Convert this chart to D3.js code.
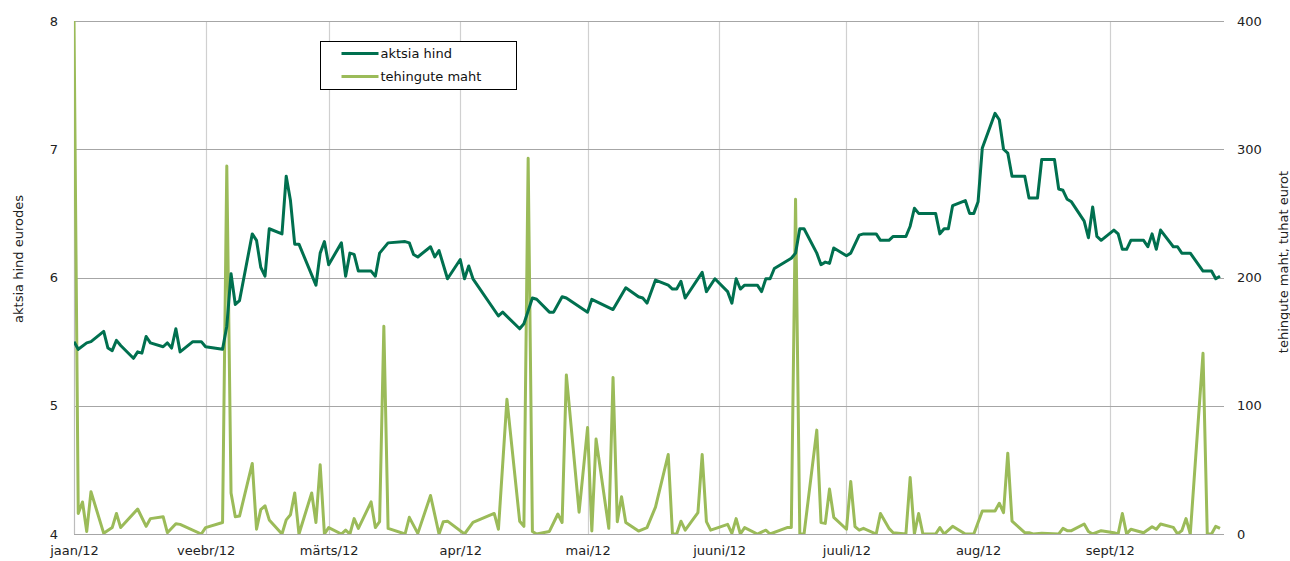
<!DOCTYPE html>
<html>
<head>
<meta charset="utf-8">
<script src="https://cdn.jsdelivr.net/npm/d3@7"></script>
<style>
  body { margin: 0; background: #fff; }
  svg { display: block; font-family: "DejaVu Sans", Verdana, sans-serif; }
</style>
</head>
<body>
<svg id="chart" width="1290" height="561"></svg>
<script>
// aktsia hind (eurodes), dates as MM-DD in 2012
const priceDates = [
  '01-02','01-03','01-05','01-06','01-09','01-10','01-11','01-12','01-13','01-16',
  '01-17','01-18','01-19','01-20','01-23','01-24','01-25','01-26','01-27','01-30',
  '02-01','02-02','02-06','02-07','02-08','02-09','02-10','02-13','02-14','02-15',
  '02-16','02-17','02-20','02-21','02-22','02-23','02-24','02-28','02-29','03-01',
  '03-02','03-05','03-06','03-07','03-08','03-09','03-12','03-13','03-14','03-16',
  '03-20','03-21','03-22','03-23','03-26','03-27','03-28','03-30','04-02','04-03',
  '04-04','04-05','04-11','04-12','04-16','04-17','04-19','04-20','04-23','04-24',
  '04-26','04-27','05-02','05-03','05-08','05-11','05-14','05-15','05-16','05-18',
  '05-21','05-22','05-23','05-24','05-25','05-29','05-30','06-01','06-04','06-05',
  '06-06','06-07','06-08','06-11','06-12','06-13','06-14','06-15','06-19','06-20',
  '06-21','06-22','06-25','06-26','06-27','06-28','06-29','07-02','07-03','07-05',
  '07-06','07-09','07-10','07-12','07-13','07-16','07-17','07-18','07-19','07-23',
  '07-24','07-25','07-26','07-27','07-30','07-31','08-01','08-02','08-03','08-06',
  '08-07','08-08','08-09','08-10','08-13','08-14','08-16','08-17','08-20','08-21',
  '08-22','08-23','08-24','08-27','08-28','08-29','08-30','08-31','09-03','09-04',
  '09-05','09-06','09-07','09-10','09-11','09-12','09-13','09-14','09-17','09-18',
  '09-19','09-21','09-24','09-26','09-27','09-28'
];
const priceValues = [
  5.50,5.44,5.49,5.50,5.58,5.45,5.43,5.51,5.47,5.37,
  5.42,5.41,5.54,5.49,5.46,5.49,5.45,5.60,5.42,5.50,
  5.50,5.46,5.44,5.62,6.03,5.79,5.82,6.34,6.29,6.08,
  6.01,6.38,6.34,6.79,6.60,6.26,6.26,5.94,6.19,6.28,
  6.10,6.27,6.01,6.19,6.18,6.05,6.05,6.01,6.19,6.27,
  6.28,6.27,6.18,6.16,6.24,6.16,6.21,5.99,6.14,5.99,
  6.09,5.99,5.70,5.73,5.60,5.64,5.84,5.83,5.73,5.73,
  5.85,5.84,5.73,5.83,5.75,5.92,5.85,5.84,5.80,5.98,
  5.94,5.91,5.91,5.97,5.84,6.04,5.89,5.99,5.89,5.80,
  5.99,5.91,5.94,5.94,5.89,5.99,5.99,6.07,6.15,6.19,
  6.38,6.38,6.19,6.10,6.12,6.11,6.23,6.17,6.19,6.33,
  6.34,6.34,6.29,6.29,6.32,6.32,6.40,6.54,6.50,6.50,
  6.34,6.38,6.38,6.56,6.60,6.50,6.50,6.59,7.01,7.28,
  7.23,7.00,6.97,6.79,6.79,6.62,6.62,6.92,6.92,6.69,
  6.68,6.61,6.59,6.44,6.31,6.55,6.32,6.29,6.37,6.34,
  6.22,6.22,6.29,6.29,6.24,6.34,6.22,6.37,6.24,6.24,
  6.19,6.19,6.05,6.05,5.99,6.01
];

// tehingute maht (tuhat eurot)
const volumeDates = [
  '01-02','01-03','01-04','01-05','01-06','01-09','01-11','01-12','01-13','01-17',
  '01-19','01-20','01-23','01-24','01-26','01-27','02-01','02-02','02-06','02-07',
  '02-08','02-09','02-10','02-13','02-14','02-15','02-16','02-17','02-20','02-21',
  '02-22','02-23','02-24','02-27','02-28','02-29','03-01','03-02','03-05','03-06',
  '03-07','03-08','03-09','03-12','03-13','03-14','03-15','03-16','03-20','03-21',
  '03-23','03-26','03-28','03-29','03-30','04-03','04-05','04-10','04-11','04-13',
  '04-16','04-17','04-18','04-19','04-20','04-23','04-25','04-26','04-27','04-30',
  '05-02','05-03','05-04','05-07','05-08','05-09','05-10','05-11','05-14','05-16',
  '05-18','05-21','05-22','05-23','05-24','05-25','05-28','05-29','05-30','05-31',
  '06-04','06-05','06-06','06-07','06-08','06-11','06-13','06-14','06-18','06-19',
  '06-20','06-21','06-22','06-25','06-26','06-27','06-28','06-29','07-02','07-03',
  '07-04','07-05','07-06','07-09','07-10','07-12','07-13','07-16','07-17','07-18',
  '07-19','07-20','07-23','07-24','07-25','07-27','07-30','08-01','08-03','08-06',
  '08-07','08-08','08-09','08-10','08-13','08-14','08-15','08-17','08-21','08-22',
  '08-23','08-24','08-27','08-28','08-29','08-31','09-03','09-04','09-05','09-06',
  '09-07','09-10','09-12','09-13','09-14','09-17','09-18','09-19','09-20','09-21',
  '09-24','09-25','09-26','09-27','09-28'
];
const volumeValues = [
  400,16,25,2,33,0.5,5,16,5,19.5,
  6,12,13.5,1,8,7.5,0,5,9,287,
  32,13.5,14,55,3.7,19,22,11,0,11,
  15,32,0,32,9,54,0,5,0,3,
  0,12,4.4,25,5,9.6,162,4.4,0,13,
  0.5,30,0,9.6,10,0,9,16,3.7,105,
  10,6,293,2,0,2,15.6,9,124,17,
  83,2.3,74,4.4,122,9.6,29,9,2.3,5,
  21,62,0,0,10,3,16.6,62,9.6,3,
  7.5,0.5,12,0,5,0,3,0,5,5,
  261,0,0,81,9,8.3,35,13,3.7,41,
  5.7,3,4.4,0,16,4.4,1,0,44,0,
  16,0,0,5,0,6,0,0,18,18,
  24,16.6,63,10,1,1,0,0.5,0,4.4,
  2.6,2.6,7.8,2,0,2.6,1,0,16,0,
  3.7,1,5.7,3.7,7.8,5.2,0,2.6,12,0,
  141,0,0,6,4.4
];

const monthTicks = ['01-02','02-02','03-02','04-02','05-02','06-02','07-02','08-02','09-02'];
const monthLabels = ['jaan/12','veebr/12','märts/12','apr/12','mai/12','juuni/12','juuli/12','aug/12','sept/12'];
const priceTicks = [4, 5, 6, 7, 8];
const volumeTicks = [0, 100, 200, 300, 400];

const parse = d3.timeParse('%Y-%m-%d');
const toDate = s => parse('2012-' + s);

const darkGreen = '#00704f';
const lightGreen = '#9bbb59';

const svg = d3.select('#chart');
const plotLeft = 74, plotRight = 1222, plotTop = 21, plotBottom = 534;

const x = d3.scaleTime()
  .domain([toDate('01-02'), toDate('09-28')])
  .range([plotLeft, 1220]);
const yPrice = d3.scaleLinear().domain([4, 8]).range([plotBottom, plotTop]);
const yVol = d3.scaleLinear().domain([0, 400]).range([plotBottom, plotTop]);

// clip for lines
svg.append('clipPath').attr('id', 'plot-clip')
  .append('rect').attr('x', plotLeft).attr('y', plotTop - 1)
  .attr('width', plotRight - plotLeft).attr('height', plotBottom - plotTop + 2);

// vertical grid (months)
const grid = svg.append('g');
grid.selectAll('line.v').data(monthTicks.slice(1)).join('line')
  .attr('class', 'v')
  .attr('x1', d => Math.round(x(toDate(d))) + 0.5)
  .attr('x2', d => Math.round(x(toDate(d))) + 0.5)
  .attr('y1', plotTop).attr('y2', plotBottom)
  .attr('stroke', '#d0d0d0').attr('stroke-width', 1.2);

// horizontal grid
grid.selectAll('line.h').data(priceTicks).join('line')
  .attr('class', 'h')
  .attr('x1', plotLeft).attr('x2', plotRight + 2)
  .attr('y1', d => Math.round(yPrice(d)) + 0.5)
  .attr('y2', d => Math.round(yPrice(d)) + 0.5)
  .attr('stroke', '#a6a6a6').attr('stroke-width', 1.2);

// left axis line
svg.append('line')
  .attr('x1', plotLeft + 0.5).attr('x2', plotLeft + 0.5)
  .attr('y1', plotTop).attr('y2', plotBottom)
  .attr('stroke', '#bcbcbc').attr('stroke-width', 1.2);

const tickText = g => g.selectAll('text').attr('font-size', 13).attr('fill', '#222')
  .attr('font-family', '"DejaVu Sans", Verdana, sans-serif');

// left ticks
svg.append('g')
  .attr('transform', `translate(${plotLeft - 16},0)`)
  .call(d3.axisLeft(yPrice).tickValues(priceTicks).tickFormat(d3.format('d'))
    .tickSize(0).tickPadding(0))
  .call(g => g.select('.domain').remove())
  .call(tickText);

// right ticks
svg.append('g')
  .attr('transform', `translate(${plotRight + 15},0)`)
  .call(d3.axisRight(yVol).tickValues(volumeTicks).tickFormat(d3.format('d'))
    .tickSize(0).tickPadding(0))
  .call(g => g.select('.domain').remove())
  .call(tickText);

// bottom labels
svg.append('g')
  .attr('transform', `translate(0,${plotBottom + 12})`)
  .call(d3.axisBottom(x)
    .tickValues(monthTicks.map(toDate))
    .tickFormat((d, i) => monthLabels[i])
    .tickSize(0).tickPadding(0))
  .call(g => g.select('.domain').remove())
  .call(tickText);

// axis titles
svg.append('text')
  .attr('transform', 'translate(23,259) rotate(-90)')
  .attr('text-anchor', 'middle')
  .attr('font-size', 13).attr('fill', '#222')
  .text('aktsia hind  eurodes');
svg.append('text')
  .attr('transform', 'translate(1288,262) rotate(-90)')
  .attr('text-anchor', 'middle')
  .attr('font-size', 13).attr('fill', '#222')
  .text('tehingute maht,  tuhat eurot');

// lines
const plot = svg.append('g').attr('clip-path', 'url(#plot-clip)');

const volData = volumeDates.map((d, i) => ({ date: toDate(d), value: volumeValues[i] }));
const priceData = priceDates.map((d, i) => ({ date: toDate(d), value: priceValues[i] }));

plot.append('path')
  .datum(volData)
  .attr('fill', 'none')
  .attr('stroke', lightGreen)
  .attr('stroke-width', 3)
  .attr('stroke-linejoin', 'round')
  .attr('d', d3.line().x(d => x(d.date)).y(d => yVol(d.value)));

plot.append('path')
  .datum(priceData)
  .attr('fill', 'none')
  .attr('stroke', darkGreen)
  .attr('stroke-width', 3)
  .attr('stroke-linejoin', 'round')
  .attr('d', d3.line().x(d => x(d.date)).y(d => yPrice(d.value)));

// bottom axis line
svg.append('line')
  .attr('x1', plotLeft).attr('x2', plotRight + 2)
  .attr('y1', plotBottom + 0.5).attr('y2', plotBottom + 0.5)
  .attr('stroke', '#a6a6a6').attr('stroke-width', 1.2);

// legend
const legend = svg.append('g').attr('transform', 'translate(320.5,41.5)');
legend.append('rect')
  .attr('width', 196).attr('height', 48)
  .attr('fill', '#fff').attr('stroke', '#000').attr('stroke-width', 1);
const legendItems = [
  { label: 'aktsia hind', color: darkGreen },
  { label: 'tehingute maht', color: lightGreen }
];
legendItems.forEach((item, i) => {
  const g = legend.append('g').attr('transform', `translate(0,${12 + i * 23})`);
  g.append('line')
    .attr('x1', 21).attr('x2', 58)
    .attr('stroke', item.color).attr('stroke-width', 3);
  g.append('text')
    .attr('x', 60).attr('dy', '0.35em')
    .attr('font-size', 13).attr('fill', '#111')
    .text(item.label);
});
</script>
</body>
</html>
